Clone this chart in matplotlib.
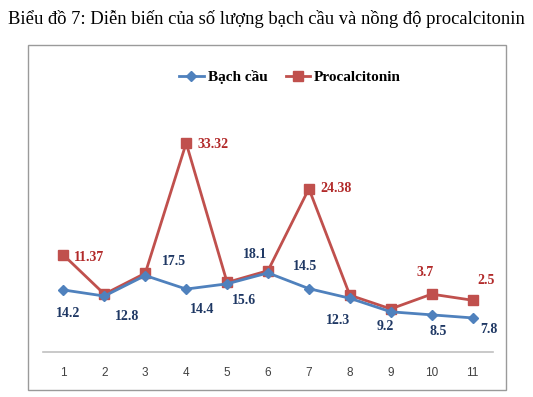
import matplotlib.pyplot as plt
from matplotlib.patches import Rectangle

# data
categories = [1, 2, 3, 4, 5, 6, 7, 8, 9, 10, 11]
bach_cau = [14.2, 12.8, 17.5, 14.4, 15.6, 18.1, 14.5, 12.3, 9.2, 8.5, 7.8]
procalcitonin = [11.37, 3.7, 7.8, 33.32, 6.0, 8.3, 24.38, 3.5, 0.8, 3.7, 2.5]
pct_labels = {0: "11.37", 3: "33.32", 6: "24.38", 9: "3.7", 10: "2.5"}

# label offsets in pixels (dx, dy)
bc_offsets = [(5, -24), (23, -20), (29, 14), (16, -20), (17, -17), (-13, 18),
              (-4, 22), (-12, -22), (-5, -15), (7, -17), (16, -12)]
pct_offsets = {0: (10, -2, "left"), 3: (11, -1, "left"), 6: (11, 0, "left"),
               9: (-7, 22, "center"), 10: (14, 20, "center")}

BLUE = "#4F81BD"
RED = "#C0504D"
NAVY = "#1F3864"
DARKRED = "#B22A2A"
SERIF = ["Liberation Serif", "DejaVu Serif"]

W, H = 533, 397
fig = plt.figure(figsize=(W / 100, H / 100), dpi=100)

# outer chart frame
fig.patches.append(Rectangle((28 / W, 1 - 390 / H), 478 / W, 345 / H,
                             transform=fig.transFigure, fill=False,
                             edgecolor="#9a9a9a", linewidth=1.0))

fig.text(8 / W, 1 - 19 / H,
         "Biểu đồ 7: Diễn biến của số lượng bạch cầu và nồng độ procalcitonin",
         family=SERIF, fontsize=13.4, va="center", ha="left", color="black")

ax = fig.add_axes([43 / W, 45 / H, 450 / W, 222 / H])
ax2 = ax.twinx()

ax.set_xlim(0.5, 11.5)
ax.set_ylim(0, 222 / 4.37)
ax2.set_ylim(-39 / 5.1, (313 - 130) / 5.1)

l1, = ax.plot(categories, bach_cau, color=BLUE, lw=2, marker="D",
              markersize=5, label="Bạch cầu", zorder=3)
l2, = ax2.plot(categories, procalcitonin, color=RED, lw=2, marker="s",
               markersize=7, label="Procalcitonin", zorder=2)

for i, v in enumerate(bach_cau):
    dx, dy = bc_offsets[i]
    ax.annotate(f"{v}", (categories[i], v), xytext=(dx, dy),
                textcoords="offset pixels", ha="center", va="center",
                family=SERIF, fontweight="bold", fontsize=10, color=NAVY)

for i, txt in pct_labels.items():
    dx, dy, ha = pct_offsets[i]
    ax2.annotate(txt, (categories[i], procalcitonin[i]), xytext=(dx, dy),
                 textcoords="offset pixels", ha=ha, va="center",
                 family=SERIF, fontweight="bold", fontsize=10, color=DARKRED)

for a in (ax, ax2):
    for s in ("top", "right", "left", "bottom"):
        a.spines[s].set_visible(False)
    a.set_yticks([])
    a.patch.set_visible(False)

ax.spines["bottom"].set_visible(True)
ax.spines["bottom"].set_color("#c0c0c0")
ax.spines["bottom"].set_linewidth(1.2)
ax.set_xticks(categories)
ax.set_xticklabels([str(c) for c in categories], fontsize=8.5,
                   family=["Liberation Sans", "DejaVu Sans"], color="#404040")
ax.tick_params(axis="x", length=0, pad=11)
ax2.set_zorder(ax.get_zorder() - 1)

fig.legend([l1, l2], ["Bạch cầu", "Procalcitonin"], loc="center",
           bbox_to_anchor=(290 / W, 1 - 77 / H), ncol=2, frameon=False,
           prop={"family": SERIF, "weight": "bold", "size": 11},
           handlelength=1.6, handletextpad=0.25, columnspacing=1.2)

fig.savefig("out.png", dpi=100)
